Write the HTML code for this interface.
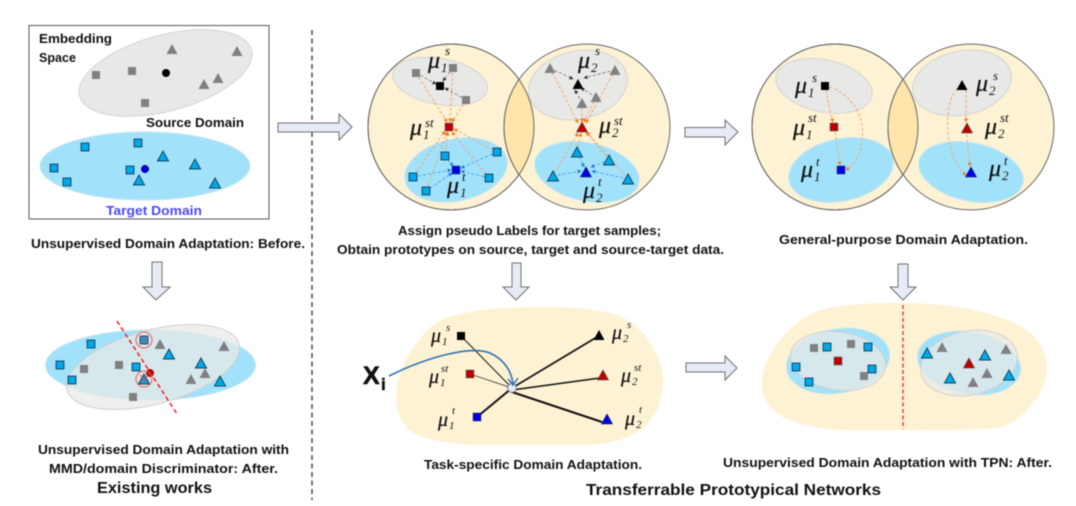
<!DOCTYPE html>
<html><head><meta charset="utf-8"><style>
html,body{margin:0;padding:0;background:#fff}
svg{display:block;filter:blur(.4px)}
text{font-family:"Liberation Sans",sans-serif;font-weight:bold;fill:#111}
.m{font-family:"Liberation Serif",serif;font-style:italic;font-weight:normal;font-size:24px;fill:#111;stroke:#111;stroke-width:.25}
.n{font-family:"Liberation Serif",serif;font-style:italic;font-weight:normal;font-size:13px;fill:#111}
.m2{font-family:"Liberation Serif",serif;font-style:italic;font-weight:normal;font-size:20px;fill:#111;stroke:#111;stroke-width:.2}
.n2{font-family:"Liberation Serif",serif;font-style:italic;font-weight:normal;font-size:11px;fill:#111}
.ar{fill:#e6ebf6;stroke:#707070;stroke-width:1}
.g{fill:#e8e8e6;stroke:#d4d4d2;stroke-width:1}
.b{fill:#a1e2fa;stroke:#c4e4f0;stroke-width:1}
.y{fill:#fef2d4;stroke:#666;stroke-width:1}
.o line,.o path{stroke:#f2a066;stroke-width:.9;stroke-dasharray:3 2;fill:none;marker-end:url(#mo)}
.k line{stroke:#666;stroke-width:.7;stroke-dasharray:3 2;marker-end:url(#mk)}
.u line{stroke:#4a9cf2;stroke-width:.9;stroke-dasharray:3 2;marker-end:url(#mu)}
</style></head><body>
<svg width="1076" height="506" viewBox="0 0 1076 506" xmlns="http://www.w3.org/2000/svg">
<defs>
<marker id="mo" markerUnits="userSpaceOnUse" markerWidth="4" markerHeight="4" refX="3.500" refY="2" orient="auto"><path d="M0,0L4,2L0,4z" fill="#ee7b22"/></marker>
<marker id="mk" markerUnits="userSpaceOnUse" markerWidth="4" markerHeight="4" refX="3.500" refY="2" orient="auto"><path d="M0,0L4,2L0,4z" fill="#333"/></marker>
<marker id="mu" markerUnits="userSpaceOnUse" markerWidth="4" markerHeight="4" refX="3.500" refY="2" orient="auto"><path d="M0,0L4,2L0,4z" fill="#1c78ee"/></marker>
<g id="gs"><rect x="-4" y="-4" width="8" height="8" fill="#808080"/></g>
<g id="gt"><path d="M0,-6L5.500,4H-5.500z" fill="#808080"/></g>
<g id="cs"><rect x="-3.900" y="-3.900" width="7.800" height="7.800" fill="#00a9ec" stroke="#14445e" stroke-width="1"/></g>
<g id="ct"><path d="M0,-6L5.500,4H-5.500z" fill="#00a9ec" stroke="#14445e" stroke-width="1"/></g>
<g id="ks"><rect x="-4" y="-4" width="8" height="8" fill="#000"/></g>
<g id="kt"><path d="M0,-6L5.500,4H-5.500z" fill="#000"/></g>
<g id="rs"><rect x="-3.900" y="-3.900" width="7.800" height="7.800" fill="#c00000" stroke="#444" stroke-width=".6"/></g>
<g id="rt"><path d="M0,-6L5.500,4H-5.500z" fill="#c00000" stroke="#444" stroke-width=".6"/></g>
<g id="us"><rect x="-3.900" y="-3.900" width="7.800" height="7.800" fill="#0000f0" stroke="#123" stroke-width=".6"/></g>
<g id="ut"><path d="M0,-6L5.500,4H-5.500z" fill="#0000f0" stroke="#123" stroke-width=".6"/></g>
<clipPath id="c1"><circle cx="451" cy="127" r="83"/></clipPath>
<clipPath id="c2"><circle cx="835" cy="127" r="83"/></clipPath>
</defs>

<!-- Divider -->
<line x1="312" y1="30" x2="312" y2="500" stroke="#222" stroke-width="1.200" stroke-dasharray="5 3.500"/>

<!-- Panel 1 -->
<rect x="29" y="25.500" width="240" height="193.500" fill="#fff" stroke="#555" stroke-width="1"/>
<ellipse class="g" cx="165.500" cy="73" rx="89" ry="38" transform="rotate(-15 165.500 73)"/>
<ellipse class="b" cx="145" cy="166" rx="105" ry="34"/>
<use href="#gs" x="96" y="75"/><use href="#gs" x="132" y="71"/><use href="#gs" x="145" y="103"/>
<use href="#gt" x="172" y="50"/><use href="#gt" x="237" y="52"/><use href="#gt" x="218" y="79"/><use href="#gt" x="204" y="85"/>
<circle cx="166" cy="73" r="4" fill="#000"/>
<use href="#cs" x="85" y="147"/><use href="#cs" x="138" y="143"/><use href="#cs" x="54" y="168"/><use href="#cs" x="67" y="182"/><use href="#cs" x="130" y="170"/>
<circle cx="145" cy="169" r="3.800" fill="#0000e0" stroke="#113" stroke-width=".5"/>
<use href="#ct" x="163" y="157"/><use href="#ct" x="195" y="165"/><use href="#ct" x="139" y="181"/><use href="#ct" x="215" y="184"/>
<text x="39" y="43" font-size="13" textLength="73" lengthAdjust="spacingAndGlyphs">Embedding</text>
<text x="39" y="62" font-size="13" textLength="37" lengthAdjust="spacingAndGlyphs">Space</text>
<text x="146" y="127" font-size="13" textLength="98" lengthAdjust="spacingAndGlyphs">Source Domain</text>
<text x="106" y="215" font-size="13" textLength="96" lengthAdjust="spacingAndGlyphs" style="fill:#4a4af2">Target Domain</text>
<text x="31" y="248" font-size="13" textLength="274" lengthAdjust="spacingAndGlyphs">Unsupervised Domain Adaptation: Before.</text>

<!-- Arrows -->
<path class="ar" d="M278,123H339V114L352,127L339,140V132H278z"/>
<path class="ar" d="M685,127.500H725V120L738,132L725,145V137H685z"/>
<path class="ar" d="M686,363H725V356L737,368L725,380V372H686z"/>
<path class="ar" d="M152,262H162V287H170L156,300L143,287H152z"/>
<path class="ar" d="M512,263H521V287H529L516,300L503,287H512z"/>
<path class="ar" d="M898,264H908V287H916L903,300L890,287H898z"/>

<!-- Panel 2 -->
<circle class="y" cx="451" cy="127" r="83"/>
<circle class="y" cx="587" cy="127" r="83"/>
<circle cx="587" cy="127" r="83" fill="#fde5ab" stroke="#666" clip-path="url(#c1)"/>
<circle cx="451" cy="127" r="83" fill="none" stroke="#666"/>
<ellipse class="g" cx="440" cy="81.500" rx="48" ry="23" transform="rotate(10 440 81.500)"/>
<ellipse class="b" cx="456" cy="170" rx="52" ry="31" transform="rotate(-12 456 170)"/>
<ellipse class="g" cx="578" cy="85" rx="50" ry="34" transform="rotate(-12 578 85)"/>
<ellipse class="b" cx="587" cy="172" rx="53" ry="29" transform="rotate(12 587 172)"/>
<g class="o">
<line x1="416" y1="73" x2="447" y2="122"/><line x1="453" y1="68" x2="450" y2="122"/><line x1="466" y1="100" x2="452" y2="122"/>
<line x1="445" y1="156" x2="448" y2="132"/><line x1="497" y1="152" x2="454" y2="129"/><line x1="413" y1="177" x2="445" y2="131"/><line x1="426" y1="191" x2="447" y2="132"/><line x1="489" y1="178" x2="452" y2="132"/>
<line x1="550" y1="68" x2="578" y2="123"/><line x1="615" y1="70" x2="586" y2="123"/><line x1="596" y1="97" x2="584" y2="122"/><line x1="582" y1="103" x2="582" y2="122"/>
<line x1="577" y1="152" x2="581" y2="133"/><line x1="609" y1="160" x2="586" y2="132"/><line x1="553" y1="176" x2="578" y2="133"/><line x1="628" y1="179" x2="587" y2="132"/>
</g>
<g class="k">
<line x1="416" y1="73" x2="436" y2="84"/><line x1="453" y1="68" x2="443" y2="81"/><line x1="466" y1="100" x2="445" y2="88"/>
<line x1="550" y1="68" x2="573" y2="79"/><line x1="615" y1="70" x2="584" y2="78"/><line x1="596" y1="97" x2="581" y2="88"/><line x1="582" y1="103" x2="575" y2="90"/>
</g>
<g class="u">
<line x1="445" y1="156" x2="453" y2="166"/><line x1="497" y1="152" x2="461" y2="168"/><line x1="413" y1="177" x2="451" y2="170"/><line x1="426" y1="191" x2="452" y2="173"/><line x1="489" y1="178" x2="461" y2="171"/>
<line x1="577" y1="152" x2="584" y2="167"/><line x1="609" y1="160" x2="591" y2="167"/><line x1="553" y1="176" x2="581" y2="171"/><line x1="628" y1="179" x2="592" y2="171"/>
</g>
<use href="#gs" x="416" y="73"/><use href="#gs" x="453" y="68"/><use href="#gs" x="466" y="100"/>
<use href="#ks" x="440" y="86"/><use href="#rs" x="449" y="127"/><use href="#us" x="456" y="170"/>
<use href="#cs" x="445" y="156"/><use href="#cs" x="497" y="152"/><use href="#cs" x="413" y="177"/><use href="#cs" x="426" y="191"/><use href="#cs" x="489" y="178"/>
<use href="#gt" x="550" y="69"/><use href="#gt" x="615" y="71"/><use href="#gt" x="596" y="98"/><use href="#gt" x="582" y="104"/>
<use href="#kt" x="578" y="85"/><use href="#rt" x="582" y="128"/><use href="#ut" x="586" y="173"/>
<use href="#ct" x="577" y="153"/><use href="#ct" x="609" y="161"/><use href="#ct" x="553" y="177"/><use href="#ct" x="628" y="180"/>
<text class="m" x="428" y="68">μ</text><text class="n" x="441" y="72">1</text><text class="n" x="445" y="55">s</text>
<text class="m" x="410" y="135">μ</text><text class="n" x="423" y="139">1</text><text class="n" x="425" y="127">st</text>
<text class="m" x="447" y="193">μ</text><text class="n" x="460" y="197">1</text><text class="n" x="462" y="181">t</text>
<text class="m" x="578" y="68">μ</text><text class="n" x="591" y="72">2</text><text class="n" x="595" y="55">s</text>
<text class="m" x="599" y="133">μ</text><text class="n" x="612" y="137">2</text><text class="n" x="614" y="125">st</text>
<text class="m" x="583" y="198">μ</text><text class="n" x="596" y="202">2</text><text class="n" x="598" y="186">t</text>
<text x="398" y="235" font-size="13" textLength="263" lengthAdjust="spacingAndGlyphs">Assign pseudo Labels for target samples;</text>
<text x="337" y="254" font-size="13" textLength="387" lengthAdjust="spacingAndGlyphs">Obtain prototypes on source, target and source-target data.</text>

<!-- Panel 3 -->
<circle class="y" cx="835" cy="127" r="83"/>
<circle class="y" cx="971" cy="127" r="83"/>
<circle cx="971" cy="127" r="83" fill="#fde5ab" stroke="#666" clip-path="url(#c2)"/>
<circle cx="835" cy="127" r="83" fill="none" stroke="#666"/>
<ellipse class="g" cx="824" cy="86" rx="49" ry="26" transform="rotate(12 824 86)"/>
<ellipse class="b" cx="841" cy="170" rx="53" ry="31" transform="rotate(-12 841 170)"/>
<ellipse class="g" cx="962" cy="83" rx="50" ry="32" transform="rotate(-12 962 83)"/>
<ellipse class="b" cx="971" cy="172" rx="53" ry="29" transform="rotate(12 971 172)"/>
<g class="o">
<path d="M826,90Q829,108 833,122"/><path d="M835,132Q838,150 840,165"/>
<path d="M830,87C858,98 868,125 860,150C858,160 852,166 846,170"/>
<path d="M957,89C942,105 945,160 966,175"/>
<path d="M966,90V122"/><path d="M967,134Q968,152 970,166"/>
</g>
<use href="#ks" x="825" y="86"/><use href="#rs" x="834" y="127"/><use href="#us" x="841" y="170"/>
<use href="#kt" x="962" y="86"/><use href="#rt" x="967" y="129"/><use href="#ut" x="971" y="173"/>
<text class="m" x="795" y="93">μ</text><text class="n" x="808" y="97">1</text><text class="n" x="812" y="82">s</text>
<text class="m" x="793" y="135">μ</text><text class="n" x="806" y="139">1</text><text class="n" x="808" y="122">st</text>
<text class="m" x="801" y="177">μ</text><text class="n" x="814" y="181">1</text><text class="n" x="816" y="166">t</text>
<text class="m" x="976" y="91">μ</text><text class="n" x="989" y="95">2</text><text class="n" x="993" y="80">s</text>
<text class="m" x="985" y="134">μ</text><text class="n" x="998" y="138">2</text><text class="n" x="1000" y="122">st</text>
<text class="m" x="989" y="176">μ</text><text class="n" x="1002" y="180">2</text><text class="n" x="1004" y="165">t</text>
<text x="779" y="244" font-size="13" textLength="249" lengthAdjust="spacingAndGlyphs">General-purpose Domain Adaptation.</text>

<!-- Panel 4 -->
<path fill="#fef2d4" d="M483,310C505,307 530,307 550,307C575,307 600,310 617,315C635,322 650,338 657,355C662,368 664,376 663,385C662,402 655,418 643,428C628,440 605,445 583,445L483,445C460,445 435,442 417,435C404,428 398,418 397,405C395,390 398,378 403,365C412,348 423,332 437,322C450,315 468,312 483,310z"/>
<line x1="461" y1="336" x2="512" y2="388" stroke="#222" stroke-width="1.100"/>
<line x1="470" y1="374" x2="512" y2="388" stroke="#444" stroke-width=".9"/>
<line x1="477" y1="417" x2="512" y2="388" stroke="#111" stroke-width="2"/>
<line x1="597" y1="337" x2="512" y2="388" stroke="#111" stroke-width="1.700"/>
<line x1="600" y1="378" x2="512" y2="390" stroke="#111" stroke-width="1.500"/>
<line x1="602" y1="422" x2="512" y2="392" stroke="#111" stroke-width="2"/>
<circle cx="512" cy="388" r="4.500" fill="#e1e9f6" stroke="#666" stroke-width=".8"/>
<path d="M389,376C425,358 470,345 490,353C505,360 512,372 513,385" fill="none" stroke="#2e75b6" stroke-width="1.600"/>
<path d="M508,379L513,385L518,378" fill="none" stroke="#2e75b6" stroke-width="1.500"/>
<use href="#ks" x="461" y="336"/><use href="#rs" x="470" y="374"/><use href="#us" x="477" y="417"/>
<use href="#kt" x="599" y="336"/><use href="#rt" x="603" y="376"/><use href="#ut" x="607" y="420"/>
<text x="363" y="384" font-size="25" stroke="#111" stroke-width=".6">X</text><text x="381" y="390" font-size="17" stroke="#111" stroke-width=".5">i</text>
<text class="m2" x="431" y="342">μ</text><text class="n2" x="442" y="345">1</text><text class="n2" x="446" y="331">s</text>
<text class="m2" x="429" y="383">μ</text><text class="n2" x="440" y="386">1</text><text class="n2" x="441" y="372">st</text>
<text class="m2" x="438" y="426">μ</text><text class="n2" x="449" y="429">1</text><text class="n2" x="452" y="414">t</text>
<text class="m2" x="612" y="339">μ</text><text class="n2" x="623" y="342">2</text><text class="n2" x="627" y="328">s</text>
<text class="m2" x="621" y="382">μ</text><text class="n2" x="632" y="385">2</text><text class="n2" x="634" y="371">st</text>
<text class="m2" x="625" y="425">μ</text><text class="n2" x="636" y="428">2</text><text class="n2" x="639" y="413">t</text>
<text x="424" y="469" font-size="13" textLength="218" lengthAdjust="spacingAndGlyphs">Task-specific Domain Adaptation.</text>

<!-- Panel 5 -->
<path fill="#fef2d4" d="M850,305C870,303 885,303 903,303C930,303 955,306 973,310C995,315 1012,320 1027,330C1040,340 1046,352 1047,367C1047,380 1042,393 1033,403C1024,414 1015,423 1000,427C975,431 940,430 907,430L840,430C820,429 800,425 783,417C768,408 762,396 762,383C762,368 770,352 780,340C790,328 800,320 813,313C825,308 838,306 850,305z"/>
<line x1="903" y1="305" x2="903" y2="429" stroke="#f03a3a" stroke-width="1.500" stroke-dasharray="4 2.500"/>
<ellipse class="b" cx="838" cy="361" rx="52" ry="32" transform="rotate(-10 838 361)"/>
<ellipse cx="838" cy="361" rx="48" ry="29" transform="rotate(8 838 361)" fill="#e9e9e7" fill-opacity=".75" stroke="#cfcfcf"/>
<ellipse class="b" cx="969" cy="363" rx="52" ry="31" transform="rotate(10 969 363)"/>
<ellipse cx="969" cy="363" rx="49" ry="32" transform="rotate(-12 969 363)" fill="#e9e9e7" fill-opacity=".75" stroke="#cfcfcf"/>
<use href="#gs" x="814" y="348"/><use href="#gs" x="851" y="344"/><use href="#gs" x="864" y="376"/>
<use href="#cs" x="827" y="347"/><use href="#cs" x="868" y="347"/><use href="#cs" x="872" y="369"/><use href="#cs" x="796" y="367"/><use href="#cs" x="809" y="382"/>
<use href="#rs" x="838" y="361"/>
<use href="#gt" x="942" y="348"/><use href="#gt" x="1006" y="350"/><use href="#gt" x="987" y="374"/><use href="#gt" x="973" y="383"/>
<use href="#ct" x="927" y="354"/><use href="#ct" x="985" y="356"/><use href="#ct" x="950" y="379"/><use href="#ct" x="1009" y="376"/>
<use href="#rt" x="969" y="364"/>
<text x="723" y="467" font-size="13" textLength="329" lengthAdjust="spacingAndGlyphs">Unsupervised Domain Adaptation with TPN: After.</text>

<!-- Panel 6 -->
<ellipse class="b" cx="150.500" cy="365" rx="105" ry="35"/>
<ellipse cx="153" cy="367" rx="89" ry="37" transform="rotate(-15 153 367)" fill="#e9e9e7" fill-opacity=".75" stroke="#cfcfcf"/>
<use href="#cs" x="91" y="344"/><use href="#cs" x="60" y="365"/><use href="#cs" x="72" y="380"/><use href="#cs" x="136" y="367"/><use href="#cs" x="144" y="340"/>
<use href="#gs" x="84" y="369"/><use href="#gs" x="119" y="365"/><use href="#gs" x="133" y="397"/>
<use href="#gt" x="160" y="345"/><use href="#gt" x="224" y="347"/><use href="#gt" x="205" y="374"/><use href="#gt" x="191" y="380"/>
<use href="#ct" x="169" y="355"/><use href="#ct" x="201" y="364"/><use href="#ct" x="220" y="382"/><use href="#ct" x="144" y="380"/>
<line x1="117" y1="321" x2="177" y2="414" stroke="#f01f2f" stroke-width="1.500" stroke-dasharray="4.500 3"/>
<circle cx="150" cy="373" r="3.800" fill="#c00000" stroke="#a00" stroke-width=".5"/>
<circle cx="144" cy="340" r="8" fill="none" stroke="#f05a5a"/>
<circle cx="144" cy="379" r="8" fill="none" stroke="#f05a5a"/>
<path d="M140,336L148,344M148,336L140,344M140,375L148,383M148,375L140,383" stroke="#e84040" stroke-width=".8"/>
<text x="38" y="454" font-size="13" textLength="251" lengthAdjust="spacingAndGlyphs">Unsupervised Domain Adaptation with</text>
<text x="49" y="473" font-size="13" textLength="229" lengthAdjust="spacingAndGlyphs">MMD/domain Discriminator: After.</text>
<text x="97" y="493" font-size="16" textLength="115" lengthAdjust="spacingAndGlyphs">Existing works</text>
<text x="586" y="495" font-size="16" textLength="295" lengthAdjust="spacingAndGlyphs">Transferrable Prototypical Networks</text>
</svg>
</body></html>
